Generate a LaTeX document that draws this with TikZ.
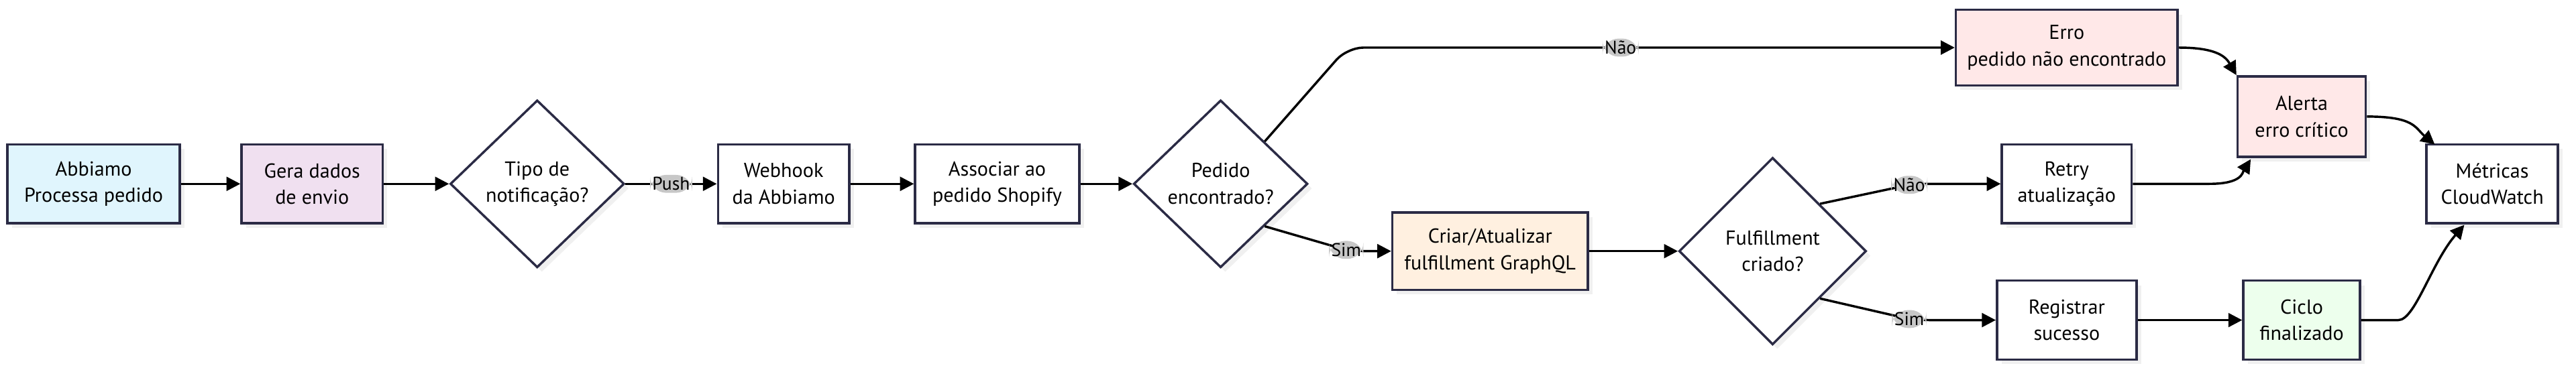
\documentclass[tikz,border=0pt]{standalone}
\usepackage{fontspec}
\setmainfont{PT Sans}
\usetikzlibrary{shapes.geometric, arrows.meta, positioning, shadows}
\definecolor{edge}{HTML}{2B2B45}

\begin{document}
\begin{tikzpicture}[
    x=0.05cm, y=-0.05cm,
    font=\fontsize{17.5}{23}\selectfont,
    stage/.style={draw=edge, fill=white, rectangle, line width=2pt, align=center, minimum height=2.4cm, drop shadow={opacity=0.12, shadow xshift=4pt, shadow yshift=-4pt}},
    choice/.style={draw=edge, fill=white, diamond, line width=2pt, align=center, inner sep=0pt, minimum width=5.3cm, minimum height=5.1cm, drop shadow={opacity=0.12, shadow xshift=4pt, shadow yshift=-4pt}},
    tag/.style={fill=black!22, inner sep=2pt, font=\fontsize{16}{18}\selectfont},
    arrow/.style={-{Triangle[length=12pt, width=12pt]}, line width=2pt, rounded corners=14pt}
]
\useasboundingbox (0,0) rectangle (1568,225);

\node[stage, fill=cyan!12, minimum width=5.25cm] (abbiamo) at (57,112) {Abbiamo\\Processa pedido};
\node[stage, fill=violet!12, minimum width=4.3cm] (dados) at (190,112) {Gera dados\\de envio};
\node[choice] (tipo) at (327,112) {Tipo de\\notificação?};
\node[stage, minimum width=4cm] (webhook) at (477,112) {Webhook\\da Abbiamo};
\node[stage, minimum width=5cm] (associar) at (607,112) {Associar ao\\pedido Shopify};
\node[choice] (pedido) at (743,112) {Pedido\\encontrado?};
\node[stage, fill=red!9, minimum width=6.75cm, minimum height=2.3cm] (erro) at (1258,29) {Erro\\pedido não encontrado};
\node[stage, fill=orange!12, minimum width=5.95cm, minimum height=2.35cm] (criar) at (907,153) {Criar/Atualizar\\fulfillment GraphQL};
\node[choice, minimum width=5.7cm, minimum height=5.7cm] (fulfill) at (1079,153) {Fulfillment\\criado?};
\node[stage, minimum width=3.95cm] (retry) at (1258,112) {Retry\\atualização};
\node[stage, minimum width=4.25cm] (registrar) at (1258,195) {Registrar\\sucesso};
\node[stage, fill=red!9, minimum width=3.9cm, minimum height=2.45cm] (alerta) at (1401,71) {Alerta\\erro crítico};
\node[stage, fill=green!7, minimum width=3.55cm] (ciclo) at (1401,195) {Ciclo\\finalizado};
\node[stage, minimum width=4cm] (metricas) at (1517,112) {Métricas\\CloudWatch};

\draw[arrow] (abbiamo) -- (dados);
\draw[arrow] (dados) -- (tipo);
\draw[arrow] (tipo) -- node[tag] {Push} (webhook);
\draw[arrow] (webhook) -- (associar);
\draw[arrow] (associar) -- (pedido);
\draw[arrow] (pedido.north east) -- (820,29) -- node[tag, pos=0.45] {Não} (erro);
\draw[arrow] (pedido.south east) -- node[tag, pos=0.95] {Sim} (822,153) -- (criar);
\draw[arrow] (criar) -- (fulfill);
\draw[arrow] (fulfill.north east) -- node[tag, pos=0.95] {Não} (1165,112) -- (retry);
\draw[arrow] (fulfill.south east) -- node[tag, pos=0.95] {Sim} (1165,195) -- (registrar);
\draw[arrow] (registrar) -- (ciclo);
\draw[arrow] (erro.east) .. controls (1350,29) and (1355,35) .. (alerta.north west);
\draw[arrow] (retry.east) -- (1335,112) .. controls (1365,112) and (1365,105) .. (1370,97);
\draw[arrow] (alerta.east) .. controls (1470,71) and (1470,78) .. (1482,88);
\draw[arrow] (ciclo.east) -- (1450,195) .. controls (1470,195) and (1480,160) .. (1500,137);
\end{tikzpicture}
\end{document}
